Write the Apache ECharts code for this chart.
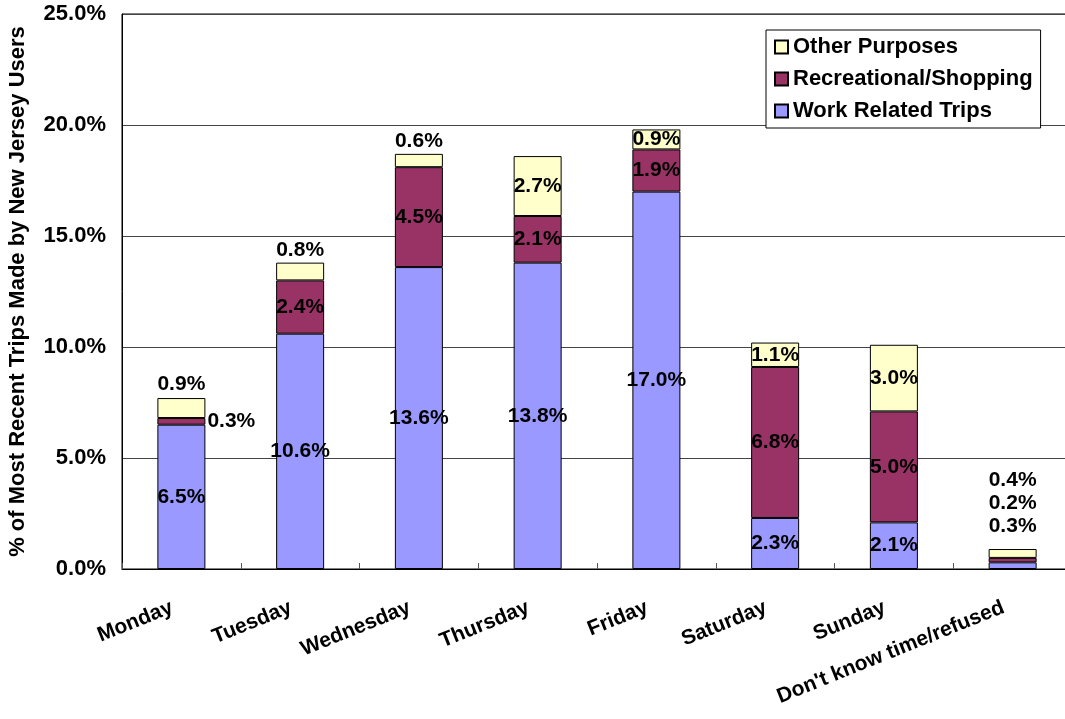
<!DOCTYPE html>
<html>
<head>
<meta charset="utf-8">
<script src="https://cdn.jsdelivr.net/npm/echarts@6/dist/echarts.min.js"></script>
<style>html,body{margin:0;padding:0;background:#fff}#c{width:1065px;height:719px}</style>
</head>
<body>
<div id="c"></div>
<script>
const categories = ['Monday','Tuesday','Wednesday','Thursday','Friday','Saturday','Sunday',"Don't know time/refused"];
const workRelated = [6.5, 10.6, 13.6, 13.8, 17.0, 2.3, 2.1, 0.3];
const recreational = [0.3, 2.4, 4.5, 2.1, 1.9, 6.8, 5.0, 0.2];
const otherPurposes = [0.9, 0.8, 0.6, 2.7, 0.9, 1.1, 3.0, 0.4];
const yTicks = [0, 5, 10, 15, 20, 25];

const FONT = '"Liberation Sans", Arial, sans-serif';
const fmt = v => v.toFixed(1) + '%';

// per-point label placement tweaks (styling only)
const labelTweaks = {
  work: {7: {position: 'inside', offset: [0, -39]}},
  rec: {0: {position: 'right', distance: 2}, 7: {position: 'inside', offset: [0, -57]}},
  other: {0: {position: 'top', distance: 3}, 1: {position: 'top', distance: 2}, 2: {position: 'top', distance: 2},
          7: {position: 'inside', offset: [0, -73]}}
};

function buildData(values, key) {
  return values.map((v, i) => {
    const t = labelTweaks[key][i];
    return t ? {value: v, label: t} : {value: v};
  });
}

const baseLabel = {
  show: true, position: 'inside', formatter: p => fmt(p.value),
  fontFamily: FONT, fontWeight: 'bold', fontSize: 21, color: '#000'
};

function series(name, values, key, color) {
  return {
    name, type: 'bar', stack: 'total', barWidth: 48,
    itemStyle: {color, borderColor: '#000', borderWidth: 1},
    label: baseLabel,
    data: buildData(values, key)
  };
}

const chart = echarts.init(document.getElementById('c'), null, {renderer: 'canvas'});
chart.setOption({
  animation: false,
  backgroundColor: '#fff',
  grid: {left: 122, top: 14, width: 950, height: 555, outerBoundsMode: 'none', containLabel: false,
         show: true, borderColor: '#000', borderWidth: 1, backgroundColor: 'transparent'},
  legend: {
    left: 766, top: 30, orient: 'vertical',
    data: ['Other Purposes', 'Recreational/Shopping', 'Work Related Trips'],
    itemWidth: 13, itemHeight: 13, itemGap: 10,
    padding: [6, 8, 6, 8],
    borderColor: '#000', borderWidth: 1, backgroundColor: '#fff',
    textStyle: {fontFamily: FONT, fontWeight: 'bold', fontSize: 22, color: '#000'},
    icon: 'rect'
  },
  xAxis: {
    type: 'category', data: categories,
    axisLine: {lineStyle: {color: '#000', width: 1}},
    axisTick: {show: true, inside: true, length: 6, alignWithLabel: false, lineStyle: {color: '#555'}},
    axisLabel: {rotate: 22, interval: 0, margin: 34, padding: [0, 10, 0, 0],
                fontFamily: FONT, fontWeight: 'bold', fontSize: 21, color: '#000'}
  },
  yAxis: {
    type: 'value', min: yTicks[0], max: yTicks[yTicks.length - 1], interval: yTicks[1] - yTicks[0],
    name: '% of Most Recent Trips Made by New Jersey Users',
    nameLocation: 'middle', nameGap: 93,
    nameTextStyle: {fontFamily: FONT, fontWeight: 'bold', fontSize: 22, color: '#000'},
    axisLine: {show: true, lineStyle: {color: '#000'}},
    axisTick: {show: false},
    splitLine: {lineStyle: {color: '#444', width: 1}},
    axisLabel: {formatter: v => fmt(v), margin: 16, fontFamily: FONT, fontWeight: 'bold', fontSize: 22, color: '#000'}
  },
  series: [
    series('Work Related Trips', workRelated, 'work', '#9999FF'),
    series('Recreational/Shopping', recreational, 'rec', '#993366'),
    series('Other Purposes', otherPurposes, 'other', '#FFFFCC')
  ]
});
</script>
</body>
</html>
